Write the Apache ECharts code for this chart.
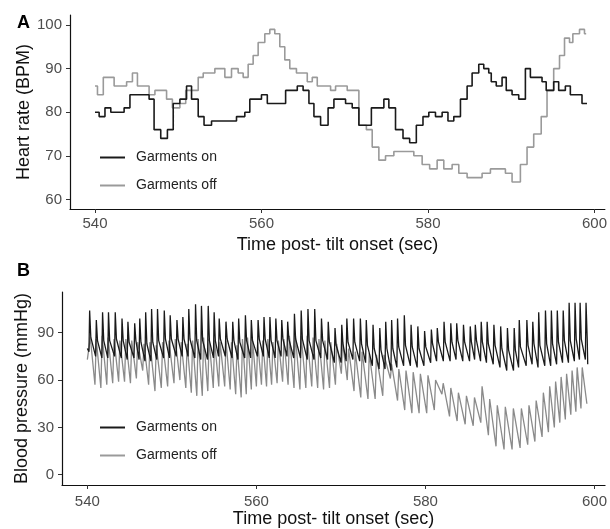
<!DOCTYPE html>
<html>
<head>
<meta charset="utf-8">
<script src="https://cdn.jsdelivr.net/npm/echarts@6/dist/echarts.min.js"></script>
<style>
  html, body { margin: 0; padding: 0; background: #fff; }
  #chart { width: 610px; height: 529px; }
</style>
</head>
<body>
<div id="chart"></div>
<script>
// tick labels
const timeTicks = [540, 560, 580, 600];
const hrTicks = [60, 70, 80, 90, 100];
const bpTicks = [0, 30, 60, 90];

// panel A: heart rate, step series (value holds until next time)
const hrOnTime = [540,540.5,541.2,541.9,543.5,544.2,546.5,547.1,547.9,548.7,549.4,550.2,551.0,551.6,552.4,553.1,554.0,557.0,558.0,558.6,
  560.0,560.7,562.9,564.3,565.0,565.7,566.3,567.1,568.0,568.7,570.1,570.9,571.7,573.2,574.7,575.3,576.1,577.0,577.8,578.6,
  579.4,580.1,580.9,581.7,582.4,583.1,583.9,584.7,585.3,586.1,586.7,587.3,587.6,588.2,588.9,589.4,590.1,590.9,591.7,592.3,
  593.7,594.2,595.1,595.7,596.5,597.1,598.5,599.1];
const hrOnBpm = [80,79,81,80,81,84,83,76,74,76,82,83,86,83,79,77,78,79,80,83,
  84,82,85,86,85,82,79,77,81,83,82,81,77,81,83,81,76,74,73,77,
  79,80,79,80,78,79,83,86,89,91,90,89,87,86,88,85,84,83,90,88,
  87,85,87,85,86,84,82,82];
const hrOffTime = [540,540.3,541.0,542.3,543.8,544.5,545.1,546.5,547.2,548.6,549.3,550.2,550.9,552.4,553.0,554.4,555.6,556.4,557.2,557.8,
  558.4,559.0,559.6,560.4,561.0,561.6,562.2,562.8,563.4,564.2,565.5,566.1,566.7,568.3,568.9,570.3,571.7,572.6,573.3,574.1,
  574.9,575.9,578.3,579.3,580.2,581.1,581.9,582.9,583.7,584.7,586.5,587.5,589.3,590.1,591.1,591.9,592.7,593.6,594.3,595.1,
  595.8,596.4,597.0,597.4,598.2,598.8,599.0];
const hrOffBpm = [86,84,88,86,87,89,86,84,85,83,81,82,85,88,89,90,88,90,89,88,
  91,93,96,98,99,98,95,92,90,89,87,88,86,85,86,85,77,76,72,69,
  70,71,70,68,67,69,67,68,66,65,66,67,66,64,68,72,75,79,85,90,
  93,97,96,98,99,98,98];

// panel B: blood pressure, one entry per beat (peak time, systolic, diastolic before it, post-notch)
const bpOnPeak = [540.27,541.06,541.8,542.5,543.3,544.1,544.8,545.6,546.2,546.9,547.6,548.3,549.1,
  549.8,550.6,551.3,552.0,552.8,553.5,554.3,555.0,555.6,556.4,557.2,557.9,
  558.7,559.4,560.2,560.9,561.6,562.3,563.0,563.7,564.5,565.3,566.1,
  566.9,567.7,568.5,569.3,570.1,570.7,571.5,572.3,573.0,573.8,574.6,575.3,576.0,576.7,
  577.5,578.3,579.1,579.9,580.7,581.4,582.2,583.0,583.7,584.5,585.3,585.9,586.6,587.3,
  588.1,588.9,589.7,590.5,591.1,592.0,592.7,593.4,594.2,594.9,595.6,596.3,597.0,597.7,598.3,599.0];
const bpOnSys = [104,98,103,103,103,99,97,96,99,103,105,105,104,
  101,98,100,105,108,107,107,103,99,97,97,99,
  101,98,98,100,100,99,98,97,102,104,105,
  105,99,97,93,95,99,99,99,98,95,93,97,98,99,
  101,95,94,91,92,93,97,96,96,95,94,95,97,97,
  95,94,93,93,98,98,97,103,104,104,104,104,109,109,109,109];
const bpOnDia = [78,75,74,74,75,74,73,74,73,72,72,73,74,
  74,75,75,75,74,73,73,74,75,75,74,73,
  74,74,75,75,74,74,75,75,74,74,73,
  73,74,73,71,71,72,73,72,71,69,67,67,66,68,
  69,69,68,69,71,72,72,72,73,72,72,73,72,71,
  70,68,66,66,68,69,70,68,69,69,70,71,71,72,73,73];
const bpOnNotch = [87,85,85,85,86,85,84,85,84,83,84,85,86,
  86,86,86,86,85,85,85,85,86,86,85,84,
  85,85,86,86,85,85,86,86,86,86,85,
  85,85,84,82,83,84,84,83,82,80,79,80,80,81,
  82,81,80,81,83,84,84,84,85,84,84,85,84,83,
  82,80,79,79,81,82,83,82,83,83,84,85,85,86,86,86];
const bpOnStart = [540, 80];
const bpOnEnd = [599.2, 70];

const bpOffPeak = [540.35,541.05,541.75,542.45,543.15,543.85,544.55,545.25,545.95,546.7,
  547.4,548.15,548.9,549.65,550.4,551.1,551.8,552.45,553.1,553.75,
  554.4,555.05,555.7,556.4,557.05,557.7,558.35,558.95,559.55,560.15,
  560.75,561.35,561.95,562.6,563.25,563.9,564.6,565.3,566.0,566.7,
  567.4,568.1,568.8,569.5,570.2,570.9,571.7,572.5,573.35,574.2,
  575.1,576.0,576.85,577.7,578.55,579.4,580.3,581.2,582.1,583.0,
  583.9,584.85,585.8,586.7,587.6,588.5,589.45,590.4,591.35,592.25,
  593.1,593.95,594.7,595.4,596.05,596.7,597.35,597.95,598.55];
const bpOffSys = [87,86,88,87,86,85,86,85,84,83,
  84,82,84,85,86,84,83,85,86,87,
  86,85,84,85,84,82,86,87,85,84,
  85,86,84,85,86,88,89,88,88,87,
  86,85,84,83,84,80,78,78,77,76,
  76,70,67,66,65,64,63,60,58,55,
  52,50,49,56,48,44,43,42,42,44,
  47,52,56,59,62,64,66,68,68];
const bpOffDia = [73,57,55,57,58,59,59,58,61,66,
  57,53,55,56,58,60,55,52,50,50,
  53,55,56,56,54,51,49,51,54,56,
  57,56,57,58,59,57,55,54,55,56,
  55,54,55,57,64,60,53,49,48,48,
  50,61,47,41,39,39,39,41,51,37,
  34,32,31,33,25,18,16,16,17,19,
  21,24,27,30,33,35,38,40,42];
const bpOffStart = [540, 73];
const bpOffEnd = [599.1, 45];

function stepPoints(times, vals) {
  return times.map((t, i) => [t, vals[i]]);
}

function beatPoints(start, peaks, sys, dia, notch, end, rise) {
  const pts = [start];
  peaks.forEach((t, i) => {
    pts.push([t - rise, dia[i]]);
    pts.push([t, sys[i]]);
    if (notch) pts.push([t + 0.14, notch[i]]);
  });
  pts.push(end);
  return pts;
}

const colOn = "#1a1a1a";
const colOffA = "#9a9a9a";
const colOffB = "#8a8a8a";
const font = "Liberation Sans";

const chart = echarts.init(document.getElementById("chart"));

function xAxisOpt(gridIndex, nameGap, labelMargin) {
  return {
    type: "value",
    gridIndex: gridIndex,
    min: 537,
    max: 601.25,
    name: "Time post- tilt onset (sec)",
    nameLocation: "middle",
    nameGap: nameGap,
    nameTextStyle: { color: "#111", fontSize: 18, fontFamily: font },
    splitLine: { show: false },
    axisLine: { onZero: false, lineStyle: { color: "#111", width: 1.2 } },
    axisTick: { customValues: timeTicks, length: 4, lineStyle: { color: "#333" } },
    axisLabel: { customValues: timeTicks, color: "#4d4d4d", fontSize: 15, fontFamily: font, margin: labelMargin },
  };
}

function yAxisOpt(gridIndex, min, max, ticks, name, nameGap) {
  return {
    type: "value",
    gridIndex: gridIndex,
    min: min,
    max: max,
    name: name,
    nameLocation: "middle",
    nameGap: nameGap,
    nameMoveOverlap: false,
    nameTextStyle: { color: "#111", fontSize: 18, fontFamily: font },
    splitLine: { show: false },
    axisLine: { show: true, onZero: false, lineStyle: { color: "#111", width: 1.2 } },
    axisTick: { show: true, customValues: ticks, length: 4, lineStyle: { color: "#333" } },
    axisLabel: { customValues: ticks, color: "#4d4d4d", fontSize: 15, fontFamily: font, margin: 8 },
  };
}

function legendOpt(top) {
  return {
    orient: "vertical",
    left: 100,
    top: top,
    padding: 0,
    icon: "rect",
    itemWidth: 25,
    itemHeight: 2,
    itemGap: 13,
    data: ["Garments on", "Garments off"],
    selectedMode: false,
    textStyle: { color: "#222", fontSize: 14, fontFamily: font, lineHeight: 15, padding: [0, 0, 0, 6] },
  };
}

const options = {
  animation: false,
  backgroundColor: "#fff",
  grid: [
    { left: 70, top: 15, width: 537, height: 194 },
    { left: 62, top: 292, width: 545, height: 196 },
  ],
  xAxis: [xAxisOpt(0, 27, 7), xAxisOpt(1, 25, 9)],
  yAxis: [
    yAxisOpt(0, 57.8, 102.3, hrTicks, "Heart rate (BPM)", 37),
    yAxisOpt(1, -6.5, 115.8, bpTicks, "Blood pressure (mmHg)", 31),
  ],
  legend: [legendOpt(150), legendOpt(420)],
  graphic: [
    { type: "text", left: 17, top: 14, style: { text: "A", font: "bold 18px Liberation Sans", fill: "#000" } },
    { type: "text", left: 17, top: 262, style: { text: "B", font: "bold 18px Liberation Sans", fill: "#000" } },
  ],
  series: [
    {
      name: "Garments off", type: "line", step: "end", xAxisIndex: 0, yAxisIndex: 0,
      showSymbol: false, color: colOffA, lineStyle: { width: 1.6 },
      data: stepPoints(hrOffTime, hrOffBpm),
    },
    {
      name: "Garments on", type: "line", step: "end", xAxisIndex: 0, yAxisIndex: 0,
      showSymbol: false, color: colOn, lineStyle: { width: 1.6 },
      data: stepPoints(hrOnTime, hrOnBpm),
    },
    {
      name: "Garments off", type: "line", xAxisIndex: 1, yAxisIndex: 1,
      showSymbol: false, color: colOffB, lineStyle: { width: 1.3 },
      data: beatPoints(bpOffStart, bpOffPeak, bpOffSys, bpOffDia, null, bpOffEnd, 0.15),
    },
    {
      name: "Garments on", type: "line", xAxisIndex: 1, yAxisIndex: 1,
      showSymbol: false, color: colOn, lineStyle: { width: 1.3 },
      data: beatPoints(bpOnStart, bpOnPeak, bpOnSys, bpOnDia, bpOnNotch, bpOnEnd, 0.08),
    },
  ],
};

chart.setOption(options);
</script>
</body>
</html>
